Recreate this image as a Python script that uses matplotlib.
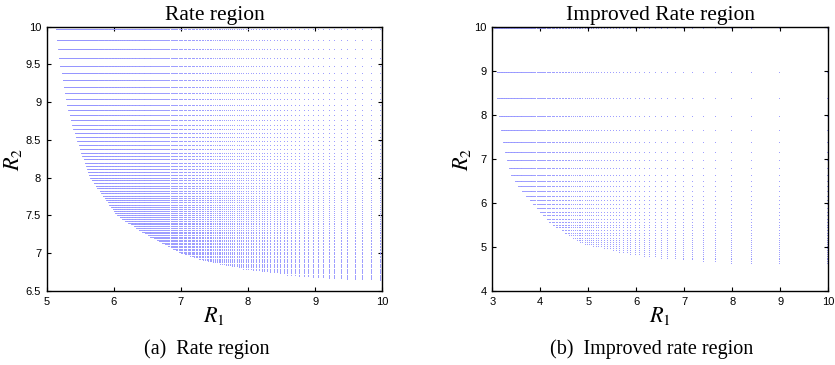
import numpy as np
import matplotlib
matplotlib.use('Agg')
import matplotlib.pyplot as plt

plt.rcParams['mathtext.fontset'] = 'stix'
plt.rcParams['font.family'] = ['Liberation Sans', 'DejaVu Sans']

# lattice of achievable pairs, R = log2(P/k)
left_P = 10000
left_k1 = np.arange(10, 286)
left_k2 = np.arange(10, 101)
right_P = 1000
right_k1 = np.arange(1, 123)
right_k2 = np.arange(1, 41)

# lower-left edge of each region (R2 ascending -> smallest R1)
left_edge_r2 = [6.640, 6.650, 6.70, 6.80, 6.90, 7.00, 7.30, 7.50, 7.70, 8.00, 8.50, 9.00, 9.50, 9.97]
left_edge_r1 = [10.00, 9.60, 8.74, 7.90, 7.37, 7.00, 6.39, 6.05, 5.89, 5.65, 5.45, 5.29, 5.20, 5.14]
right_edge_r2 = [4.64, 4.68, 4.76, 4.87, 5.06, 5.48, 5.85, 6.31, 6.645, 6.79, 6.97, 7.16, 7.38, 7.65, 7.97, 8.38, 8.97, 9.97]
right_edge_r1 = [7.90, 7.35, 6.35, 5.66, 4.90, 4.27, 3.93, 3.58, 3.40, 3.35, 3.31, 3.265, 3.22, 3.18, 3.146, 3.11, 3.09, 3.035]

titles = ['Rate region', 'Improved Rate region']
captions = ['(a)  Rate region', '(b)  Improved rate region']
left_xticks = [5, 6, 7, 8, 9, 10]
left_yticks = [6.5, 7, 7.5, 8, 8.5, 9, 9.5, 10]
right_xticks = [3, 4, 5, 6, 7, 8, 9, 10]
right_yticks = [4, 5, 6, 7, 8, 9, 10]

def region_points(P, k1, k2, edge_r2, edge_r1):
    r1 = np.log2(P / k1)
    r2 = np.log2(P / k2)
    X, Y = np.meshgrid(r1, r2)
    lim = np.interp(Y, edge_r2, edge_r1)
    keep = X >= lim - 0.005
    return X[keep], Y[keep]

fig = plt.figure(figsize=(8.35, 3.65), dpi=100)
axL = fig.add_axes([46.7/835, 1-291/365, 335.6/835, 264.3/365])
axR = fig.add_axes([492.3/835, 1-291/365, 336/835, 264.3/365])

setup = [
    (axL, left_P, left_k1, left_k2, left_edge_r2, left_edge_r1, (5, 10), (6.5, 10), left_xticks, left_yticks),
    (axR, right_P, right_k1, right_k2, right_edge_r2, right_edge_r1, (3, 10), (4, 10), right_xticks, right_yticks),
]

for i, (ax, P, k1, k2, er2, er1, xl, yl, xt, yt) in enumerate(setup):
    x, y = region_points(P, k1, k2, er2, er1)
    ax.plot(x, y, ls='none', marker='s', ms=0.6, mew=0, color='#9696ff')
    ax.set_xlim(xl)
    ax.set_ylim(yl)
    ax.set_xticks(xt)
    ax.set_yticks(yt)
    ax.set_xticklabels([('%g' % v) for v in xt])
    ax.set_yticklabels([('%g' % v) for v in yt])
    ax.tick_params(direction='in', length=3, width=0.8, labelsize=8, top=True, right=True, pad=4)
    for s in ax.spines.values():
        s.set_linewidth(1.0)
    ax.set_title(titles[i], fontsize=15.5, family='Liberation Serif', pad=4.5)
    ax.set_xlabel('$R_1$', fontsize=16, labelpad=-1)
    ax.set_ylabel('$R_2$', fontsize=16, labelpad=1)

fig.text(207/835, 1-354/365, captions[0], ha='center', va='baseline', fontsize=14.5, family='Liberation Serif')
fig.text(652/835, 1-354/365, captions[1], ha='center', va='baseline', fontsize=14.5, family='Liberation Serif')

fig.savefig('out.png', dpi=100)
